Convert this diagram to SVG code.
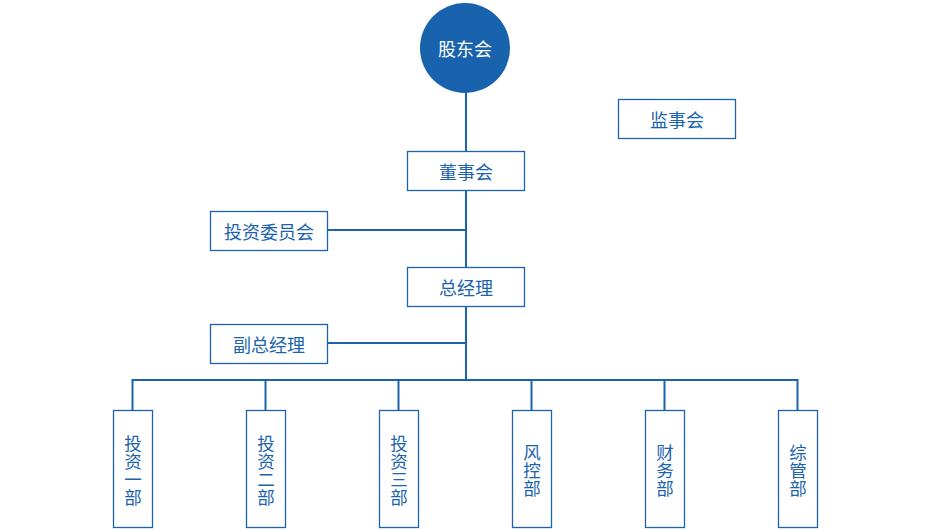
<svg xmlns="http://www.w3.org/2000/svg" width="930" height="530" viewBox="0 0 930 530">
<style>
.box{fill:#fff;stroke:#1b63ad;stroke-width:1.3}
.t{font-family:"Noto Sans CJK SC","Noto Sans",sans-serif;font-size:18px;fill:#1b63ad;text-anchor:middle;dominant-baseline:central}
.v{font-size:17.5px}
.w{fill:#fff}
.ln{stroke:#1b63ad;stroke-width:2;fill:none}
</style>
<rect width="930" height="530" fill="#fff"/>
<g id="connectors">
<path class="ln" d="M466 92V380M328 230H466M328 343H466M132.5 410V380H797.5V410M265.5 380V410M398.5 380V410M531.5 380V410M664.5 380V410"/>
</g>
<g id="gudonghui"><circle cx="465" cy="48" r="45" fill="#1862ae"/><text class="t w" x="465" y="48">股东会</text></g>
<g id="jianshihui"><rect class="box" x="618.5" y="99.5" width="117" height="39"/><text class="t" x="677" y="119">监事会</text></g>
<g id="dongshihui"><rect class="box" x="407.5" y="151.5" width="117" height="39"/><text class="t" x="466" y="171">董事会</text></g>
<g id="touziweiyuanhui"><rect class="box" x="210.5" y="211.5" width="117" height="39"/><text class="t" x="269" y="231">投资委员会</text></g>
<g id="zongjingli"><rect class="box" x="407.5" y="267.5" width="117" height="39"/><text class="t" x="466" y="287">总经理</text></g>
<g id="fuzongjingli"><rect class="box" x="210.5" y="324.5" width="117" height="39"/><text class="t" x="269" y="344">副总经理</text></g>
<g id="touzi1"><rect class="box" x="113.5" y="410.5" width="39" height="117"/><text class="t v" x="133"><tspan x="133" y="442">投</tspan><tspan x="133" y="460">资</tspan><tspan x="133" y="478">一</tspan><tspan x="133" y="496">部</tspan></text></g>
<g id="touzi2"><rect class="box" x="246.5" y="410.5" width="39" height="117"/><text class="t v" x="266"><tspan x="266" y="442">投</tspan><tspan x="266" y="460">资</tspan><tspan x="266" y="478">二</tspan><tspan x="266" y="496">部</tspan></text></g>
<g id="touzi3"><rect class="box" x="379.5" y="410.5" width="39" height="117"/><text class="t v" x="399"><tspan x="399" y="442">投</tspan><tspan x="399" y="460">资</tspan><tspan x="399" y="478">三</tspan><tspan x="399" y="496">部</tspan></text></g>
<g id="fengkong"><rect class="box" x="512.5" y="410.5" width="39" height="117"/><text class="t v" x="532"><tspan x="532" y="451">风</tspan><tspan x="532" y="469">控</tspan><tspan x="532" y="487">部</tspan></text></g>
<g id="caiwu"><rect class="box" x="645.5" y="410.5" width="39" height="117"/><text class="t v" x="665"><tspan x="665" y="451">财</tspan><tspan x="665" y="469">务</tspan><tspan x="665" y="487">部</tspan></text></g>
<g id="zongguan"><rect class="box" x="778.5" y="410.5" width="39" height="117"/><text class="t v" x="798"><tspan x="798" y="451">综</tspan><tspan x="798" y="469">管</tspan><tspan x="798" y="487">部</tspan></text></g>
</svg>
